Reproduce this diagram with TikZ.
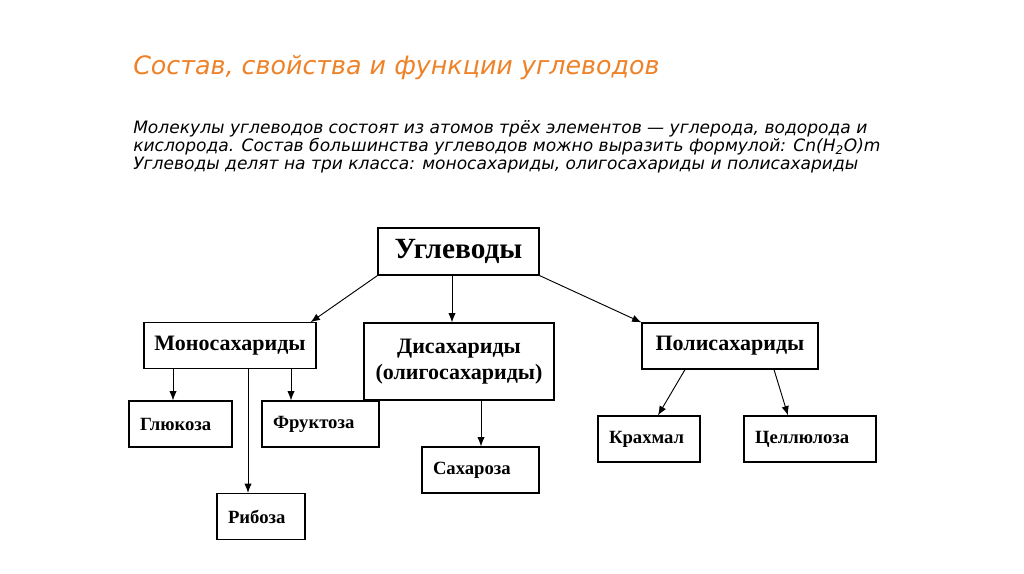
\documentclass[tikz,border=0pt]{standalone}
\usepackage{fontspec}
\setmainfont{Liberation Serif}
\newfontfamily\handfont{DejaVu Sans}
\usetikzlibrary{arrows.meta}
\definecolor{titleorange}{RGB}{238,130,40}

\begin{document}
\begin{tikzpicture}[x=0.75pt, y=-0.75pt, >={Latex[length=7pt,width=5.5pt]},
  box/.style={draw, line width=0.9pt, inner sep=0pt, align=center, font=\bfseries\fontsize{16.5}{19}\selectfont},
  leaf/.style={draw, line width=0.9pt, inner xsep=8.25pt, inner ysep=0pt, text width=#1, align=left, minimum height=34.5pt, font=\bfseries\fontsize{14}{16}\selectfont},
  link/.style={->, line width=0.7pt}]
\useasboundingbox (0,0) rectangle (1024,574);
% ---------------- heading and text ----------------
\node[anchor=base west, inner sep=0pt, text=titleorange, font=\handfont\itshape\fontsize{19}{22}\selectfont] (title) at (133,75) {Состав, свойства и функции углеводов};
\node[anchor=north west, inner sep=0pt, align=left, font=\handfont\itshape\fontsize{12.8}{13.5}\selectfont] (intro) at (133,120) {Молекулы углеводов состоят из атомов трёх элементов — углерода, водорода и\\ кислорода. Состав большинства углеводов можно выразить формулой: Cn(H\textsubscript{2}O)m\\ Углеводы делят на три класса: моносахариды, олигосахариды и полисахариды};
% ---------------- classes ----------------
\node[box, font=\bfseries\fontsize{22}{25}\selectfont, minimum width=120.75pt, minimum height=35.25pt] (carb) at (458.5,251.5) {Углеводы};
\node[box, minimum width=129pt, minimum height=34pt] (mono) at (230,345.5) {Моносахариды};
\node[box, minimum width=142.5pt, minimum height=57.75pt] (di) at (459,361.5) {Дисахариды\\(олигосахариды)};
\node[box, minimum width=132pt, minimum height=34.5pt] (poly) at (730,346) {Полисахариды};
% ---------------- examples ----------------
\node[leaf=60.75pt] (gluc) at (180.5,424) {Глюкоза};
\node[leaf=71.25pt] (fruc) at (320.5,424) {Фруктоза};
\node[leaf=49.5pt] (ribo) at (261,516.5) {Рибоза};
\node[leaf=71.25pt] (sucr) at (480.5,470) {Сахароза};
\node[leaf=60pt] (starch) at (649,439) {Крахмал};
\node[leaf=82.5pt] (cell) at (810,439) {Целлюлоза};
% ---------------- arrows ----------------
\draw[link] (carb.south west) -- ([xshift=-4.5pt]mono.north east);
\draw[link] (carb.south -| 452,0) -- (di.north -| 452,0);
\draw[link] (carb.south east) -- (poly.north west);
\draw[link] (mono.south -| 173,0) -- (gluc.north -| 173,0);
\draw[link] (mono.south -| 248,0) -- (ribo.north -| 248,0);
\draw[link] (mono.south -| 291,0) -- (fruc.north -| 291,0);
\draw[link] (di.south -| 481,0) -- (sucr.north -| 481,0);
\draw[link] (poly.south -| 685,0) -- (starch.north -| 658,0);
\draw[link] (poly.south -| 774,0) -- (cell.north -| 788,0);
\end{tikzpicture}
\end{document}
